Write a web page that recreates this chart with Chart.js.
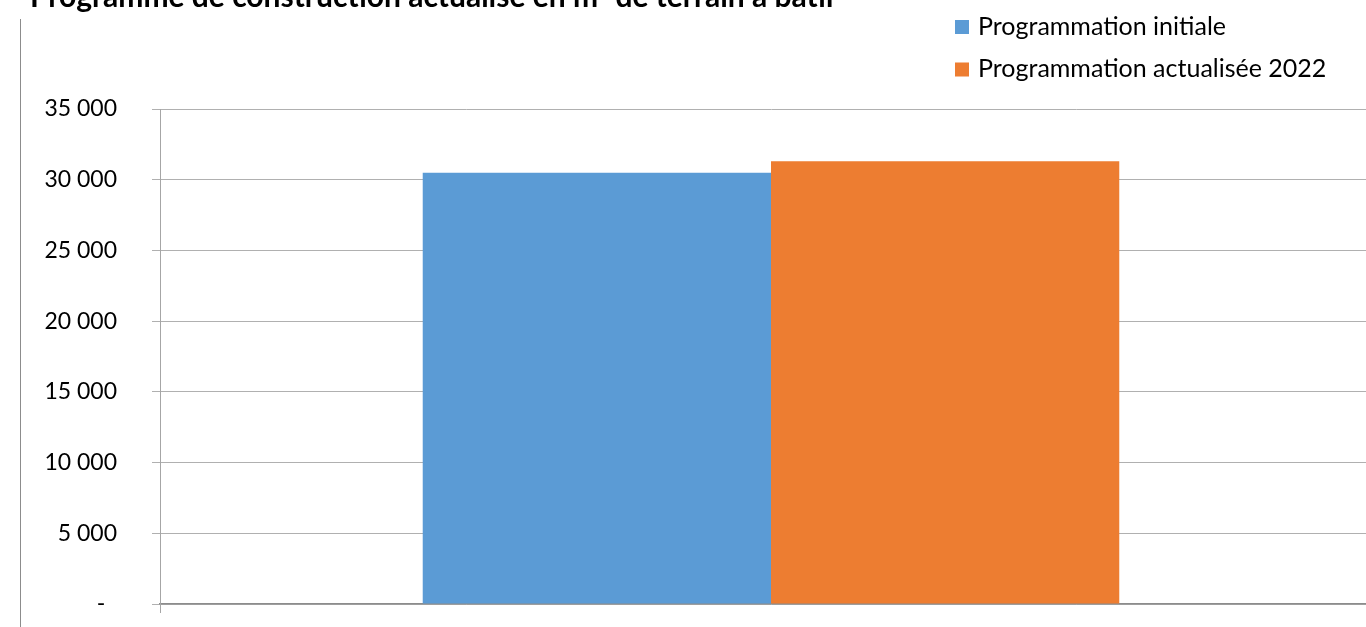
<!DOCTYPE html>
<html>
<head>
<meta charset="utf-8">
<script src="https://cdn.jsdelivr.net/npm/chart.js@4"></script>
<style>
  html, body { margin: 0; padding: 0; background: #fff; overflow: hidden; }
  #wrap { position: relative; width: 1366px; height: 627px; overflow: hidden; }
  #frame { position: absolute; left: 20px; top: 19px; width: 0; height: 620px; border-left: 1px solid #8c8c8c; }
  #chart { position: absolute; left: 0; top: 0; }
</style>
</head>
<body>
<div id="wrap">
  <div id="frame"></div>
  <canvas id="chart" width="1382" height="627"></canvas>
</div>
<script>
// data
const categories = [''];
const seriesNames = ['Programmation initiale', 'Programmation actualisée 2022'];
const seriesColors = ['#5b9bd5', '#ed7d31'];
const initialValues = [30500];
const updatedValues = [31300];
const yMax = 35000;
const yStep = 5000;
const chartTitle = 'Programme de construction actualisé en m² de terrain à bâtir';

const FONT = 'Lato';

// title and legend are drawn by hand (Excel style, stacked legend top right)
const decorations = {
  id: 'decorations',
  afterDraw(chart) {
    const ctx = chart.ctx;
    ctx.save();
    ctx.fillStyle = '#000';
    ctx.textBaseline = 'alphabetic';
    ctx.font = 'bold 30px ' + FONT;
    ctx.fillText(chartTitle, 30, 7);

    ctx.font = '25px ' + FONT;
    chart.data.datasets.forEach((ds, i) => {
      const y = 20 + i * 42.5;
      ctx.fillStyle = ds.backgroundColor;
      ctx.fillRect(955, y, 14, 14);
      ctx.fillStyle = '#000';
      ctx.fillText(ds.label, 978, y + 14.5);
    });
    ctx.restore();
  }
};

const fmt = v => {
  if (v === 0) return '-\u00a0\u00a0';
  return String(v).replace(/\B(?=(\d{3})+(?!\d))/g, ' ');
};

new Chart(document.getElementById('chart'), {
  type: 'bar',
  data: {
    labels: categories,
    datasets: [
      { label: seriesNames[0], data: initialValues, backgroundColor: seriesColors[0] },
      { label: seriesNames[1], data: updatedValues, backgroundColor: seriesColors[1] }
    ]
  },
  options: {
    responsive: false,
    animation: false,
    categoryPercentage: 0.57,
    barPercentage: 1,
    layout: { padding: { top: 109, bottom: 0, left: 0, right: 0 } },
    plugins: {
      legend: { display: false },
      tooltip: { enabled: false }
    },
    scales: {
      x: {
        afterFit: s => { s.height = 23; },
        grid: { display: true, drawOnChartArea: false, tickLength: 9, color: '#a6a6a6', offset: true },
        border: { color: '#8c8c8c', width: 1.5 },
        ticks: { display: false }
      },
      y: {
        min: 0,
        max: yMax,
        afterFit: s => {
          s.width = 160;
          // tick padding would otherwise be added above/below the axis too
          s.paddingTop = 0;
          s.paddingBottom = 0;
        },
        grid: { color: '#b0b0b0', tickLength: 8 },
        border: { color: '#a6a6a6' },
        ticks: {
          stepSize: yStep,
          padding: 35,
          color: '#000',
          font: { family: FONT, size: 23 },
          callback: fmt
        }
      }
    }
  },
  plugins: [decorations]
});
</script>
</body>
</html>
